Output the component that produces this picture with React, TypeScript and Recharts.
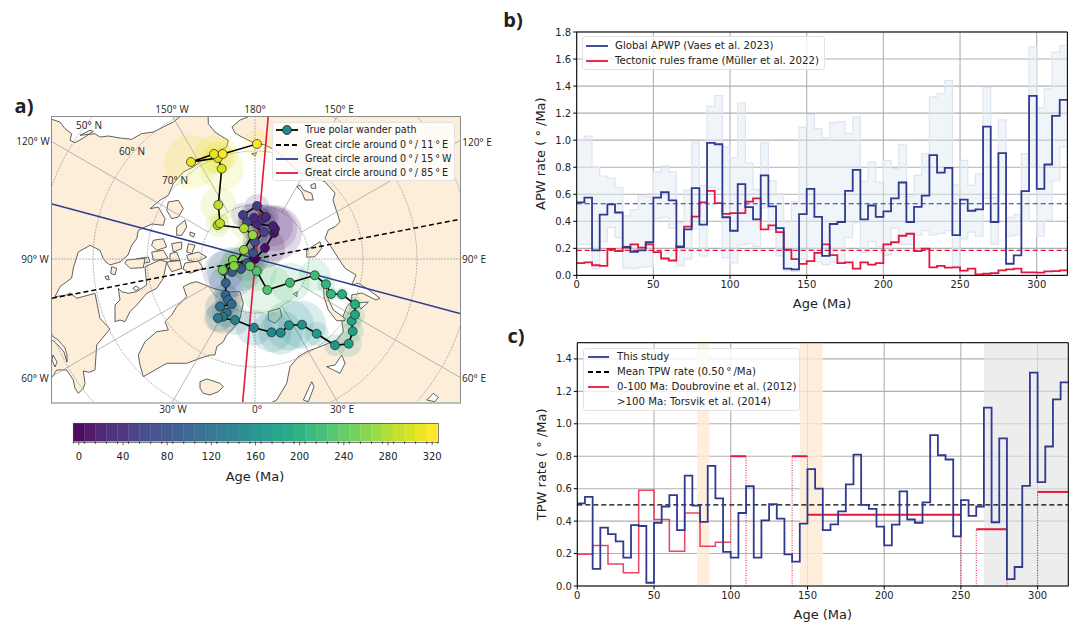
import {
  Area,
  Bar,
  BarChart,
  CartesianGrid,
  Cell,
  ComposedChart,
  Line,
  ReferenceArea,
  ReferenceLine,
  Scatter,
  ScatterChart,
  XAxis,
  YAxis,
} from 'recharts'

const FONT = '"DejaVu Sans", sans-serif'
const MAP_FONT = '"Open Sans", sans-serif'
const NAVY = '#2f3a8f'
const RED = '#e3173f'
const LAND = '#fdeed9'
const COAST = '#3a3a3a'

// 5 Ma bins, panels b and c share them
const binStarts = [
  0, 5, 10, 15, 20, 25, 30, 35, 40, 45, 50, 55, 60, 65, 70, 75, 80, 85, 90, 95, 100, 105, 110, 115, 120, 125, 130, 135,
  140, 145, 150, 155, 160, 165, 170, 175, 180, 185, 190, 195, 200, 205, 210, 215, 220, 225, 230, 235, 240, 245, 250,
  255, 260, 265, 270, 275, 280, 285, 290, 295, 300, 305, 310, 315,
]

const apwGlobal = [
  0.54, 0.575, 0.185, 0.45, 0.525, 0.465, 0.21, 0.175, 0.185, 0.245, 0.575, 0.615, 0.555, 0.21, 0.34, 0.645, 0.375,
  0.98, 0.97, 0.43, 0.33, 0.675, 0.505, 0.415, 0.74, 0.51, 0.35, 0.05, 0.045, 0.453, 0.64, 0.433, 0.145, 0.38, 0.395,
  0.625, 0.78, 0.415, 0.517, 0.433, 0.473, 0.57, 0.687, 0.395, 0.507, 0.59, 0.89, 0.76, 0.795, 0.298, 0.56, 0.478,
  0.488, 1.1, 0.395, 0.904, 0.086, 0.148, 0.623, 1.328, 0.64, 0.82, 1.18, 1.298,
]
const apwTectonic = [
  0.09, 0.097, 0.075, 0.07, 0.195, 0.18, 0.205, 0.23, 0.205, 0.23, 0.172, 0.125, 0.11, 0.215, 0.36, 0.435, 0.54, 0.625,
  0.535, 0.455, 0.46, 0.46, 0.545, 0.57, 0.34, 0.37, 0.32, 0.19, 0.12, 0.085, 0.106, 0.167, 0.23, 0.15, 0.09, 0.096,
  0.05, 0.096, 0.08, 0.09, 0.23, 0.245, 0.293, 0.308, 0.18, 0.197, 0.06, 0.07, 0.057, 0.06, 0.035, 0.05, 0.007, 0.012,
  0.017, 0.037, 0.044, 0.05, 0.022, 0.022, 0.02, 0.03, 0.032, 0.037,
]
const apwUpper = [
  1.0, 1.03, 0.8, 0.735, 0.72, 0.65, 0.44, 0.485, 0.59, 0.58, 0.765, 0.81, 0.765, 0.39, 0.63, 0.985, 0.665, 1.25, 1.33,
  0.95, 0.87, 1.275, 0.83, 0.635, 0.98, 0.7, 0.605, 0.395, 0.545, 1.095, 1.19, 1.085, 1.015, 1.13, 1.135, 1.05, 1.17,
  0.695, 0.84, 0.69, 0.85, 0.79, 0.97, 0.585, 0.74, 0.9, 1.32, 1.345, 1.44, 0.67, 0.85, 0.665, 0.75, 1.39, 0.575, 1.15,
  0.43, 0.45, 0.9, 1.69, 1.24, 1.38, 1.65, 1.7,
]
const apwLower = [
  0.23, 0.23, 0.05, 0.25, 0.355, 0.28, 0.055, 0.05, 0.06, 0.065, 0.42, 0.43, 0.35, 0.07, 0.12, 0.345, 0.145, 0.65, 0.64,
  0.13, 0.095, 0.225, 0.235, 0.215, 0.5, 0.34, 0.145, 0.035, 0.03, 0.12, 0.19, 0.1, 0.08, 0.1, 0.1, 0.28, 0.39, 0.17,
  0.25, 0.21, 0.15, 0.35, 0.23, 0.23, 0.3, 0.33, 0.3, 0.31, 0.33, 0.07, 0.27, 0.32, 0.29, 0.57, 0.23, 0.6, 0.29, 0.3,
  0.4, 0.8, 0.29, 0.41, 0.7, 0.95,
]
const tpwThisStudy = [
  0.51, 0.55, 0.105, 0.36, 0.32, 0.275, 0.175, 0.375, 0.37, 0.02, 0.39, 0.49, 0.56, 0.345, 0.68, 0.495, 0.395, 0.74,
  0.54, 0.21, 0.175, 0.45, 0.615, 0.175, 0.405, 0.505, 0.415, 0.195, 0.15, 0.385, 0.72, 0.6, 0.345, 0.38, 0.46, 0.627,
  0.81, 0.5, 0.475, 0.366, 0.25, 0.378, 0.584, 0.41, 0.39, 0.516, 0.93, 0.806, 0.78, 0.306, 0.53, 0.432, 0.49, 1.1,
  0.393, 0.91, 0.043, 0.117, 0.617, 1.316, 0.64, 0.86, 1.15, 1.256,
]

// Doubrovine et al. 0-100 Ma: 10 Ma steps
const doubrovineAges = [0, 10, 20, 30, 40, 50, 60, 70, 80, 90, 100]
const doubrovineRates = [0.195, 0.25, 0.135, 0.082, 0.59, 0.41, 0.215, 0.45, 0.245, 0.27, 0.27]
// Torsvik et al. >100 Ma: [from, to, rate]
const torsvikSegments = [
  [100, 110, 0.8],
  [140, 150, 0.8],
  [150, 250, 0.44],
  [260, 280, 0.35],
  [300, 320, 0.58],
]
// dotted droppers: [age, from, to]
const torsvikDrops = [
  [100, 0.27, 0.8],
  [110, 0, 0.8],
  [140, 0, 0.8],
  [150, 0.44, 0.8],
  [250, 0, 0.44],
  [260, 0, 0.35],
  [280, 0, 0.35],
  [300, 0, 0.58],
]

const xTicks = [0, 50, 100, 150, 200, 250, 300]
const apwTicks = [0, 0.2, 0.4, 0.6, 0.8, 1.0, 1.2, 1.4, 1.6, 1.8]
const tpwTicks = [0, 0.2, 0.4, 0.6, 0.8, 1.0, 1.2, 1.4]

// colourbar, 10 Ma classes
const colorbarAges = [
  0, 10, 20, 30, 40, 50, 60, 70, 80, 90, 100, 110, 120, 130, 140, 150, 160, 170, 180, 190, 200, 210, 220, 230, 240, 250,
  260, 270, 280, 290, 300, 310, 320,
]
const viridis = [
  '#440154', '#471063', '#481d6f', '#482979', '#472c7a', '#443a83', '#414487', '#3e4c8a', '#3b528b', '#375b8d',
  '#33638d', '#306a8e', '#2c728e', '#29798e', '#27808e', '#23888e', '#21918c', '#1f988b', '#1fa088', '#21a685',
  '#28ae80', '#32b67a', '#3fbc73', '#4ec36b', '#5ec962', '#70cf57', '#84d44b', '#98d83e', '#addc30', '#c2df23',
  '#d5e21a', '#e9e51a', '#fde725',
]

// true polar wander path on the map: [age, x, y, A95]
const tpwPath = [
  [0, 255, 259, 14], [5, 265, 248, 20], [10, 274, 233, 28], [15, 275, 229, 22], [20, 273, 226, 20], [25, 257, 224, 18],
  [30, 254, 218, 15], [35, 262, 219, 14], [40, 266, 217, 13], [45, 257, 206, 12], [50, 243, 215, 12], [55, 247, 222, 10],
  [60, 264, 232, 12], [65, 255, 242, 12], [70, 253, 253, 14], [75, 247, 263, 18], [80, 241, 269, 22], [85, 232, 272, 25],
  [90, 224, 271, 20], [95, 225.7, 283, 17], [100, 225.7, 295, 12], [105, 228, 300, 13], [110, 231.7, 304, 12],
  [115, 220, 306.7, 15], [120, 226.7, 312.7, 15], [125, 223, 316.7, 17], [130, 218, 318, 14], [135, 235, 320, 15],
  [140, 254, 327.7, 18], [145, 271.7, 332.3, 20], [150, 280.7, 332.7, 22], [155, 289, 325.3, 25], [160, 302, 324.7, 24],
  [165, 316.7, 333.7, 12], [170, 335, 345.3, 11], [175, 348.7, 343.7, 13], [180, 352.7, 331.3, 11], [185, 351.7, 321, 10],
  [190, 355, 314.7, 10], [195, 355, 304.3, 8], [200, 342, 294.3, 7], [205, 331, 294, 7], [210, 326, 284.3, 9],
  [215, 314.7, 275.3, 16], [220, 290, 282.7, 20], [225, 267.3, 290, 26], [230, 256.7, 271, 20], [235, 250, 266, 14],
  [240, 233, 260, 12], [245, 235, 266, 12], [250, 222.7, 270, 10], [255, 233, 260, 10], [260, 234, 266, 10],
  [265, 244, 250, 10], [270, 252.7, 235, 10], [275, 244, 228.3, 12], [280, 217.7, 225, 12], [285, 220, 223.3, 10],
  [290, 218.3, 205, 18], [295, 221.7, 168.7, 22], [300, 218, 158, 16], [305, 191, 162, 27], [310, 214, 154, 19],
  [315, 222.7, 154, 16], [320, 257, 144, 14],
]

// coastlines in map units
const landWest = [
  [45, 119], [51.7, 119.3], [60, 122], [65, 128.7], [71.7, 133.7], [70, 140.3], [75, 142.7], [83.3, 138], [93.3, 131.3],
  [90, 130.3], [80, 135.3], [95, 133.7], [100, 137], [108.3, 136], [120, 138], [131.7, 139.3], [141.7, 133.7], [153.3, 132],
  [163.3, 127], [173.3, 122], [180, 116.7], [180, 105], [208, 105], [208.3, 123.7], [215, 132], [220, 135.3], [228.3, 140.3],
  [226.7, 147], [206.7, 157], [193.3, 167], [183.3, 172], [173.3, 183.7], [168.3, 195.3], [160, 200.3], [150, 208.7],
  [158.3, 207], [165, 218.7], [163.3, 225.3], [152, 224], [145, 227], [138.3, 230.3], [136.7, 238.7], [131.7, 245.3],
  [128, 255], [120, 262], [110, 265], [106, 262], [103.3, 258.7], [100, 250.3], [90, 245.3], [78.3, 252], [73.3, 268],
  [71.7, 278], [60, 286.7], [55, 296.7], [66.7, 295], [70, 293], [76.7, 298.3], [95, 293.3], [100, 318.3], [110, 329],
  [96.7, 345], [95, 370], [89.3, 372.3], [83.3, 371], [85, 383.3], [83.3, 388.3], [78.3, 393.3], [75, 388.3], [73.3, 380],
  [66.7, 370], [56.7, 370], [52.7, 376.7], [45, 376.7],
]
const landEast = [
  [248, 105], [248, 117], [240, 120], [232, 127], [235, 133], [240, 136], [252, 142], [265, 145], [275, 150], [300, 173],
  [325, 181.7], [335, 193.3], [333, 200], [336.7, 211.7], [340, 221.7], [335, 226.7], [328.3, 230], [325, 238.3], [330, 245],
  [338.3, 258.3], [345, 268.3], [356, 275], [351.7, 285], [358.3, 283.3], [366.7, 288.3], [380, 298.3], [376, 300],
  [362, 293], [351.7, 295], [351.7, 301.7], [346.7, 306.7], [341.7, 320], [343.3, 331.7], [336.7, 340], [320, 346.7],
  [306.7, 351.7], [298.3, 356.7], [290, 366.7], [286.7, 383.3], [276.7, 400], [270, 403.3], [270, 410], [470, 410], [470, 105],
]
const landIslands = [
  [[168.3, 202], [178.3, 200.3], [183.3, 208.7], [178.3, 217], [171.7, 218.7], [166.7, 210.3]],
  [[176.7, 227], [185, 220.3], [186.7, 227], [181.7, 235.3], [176.7, 235.3]],
  [[190, 232], [195, 233.7], [193.3, 237], [190, 235.3]],
  [[153.3, 240.3], [163.3, 238.7], [166.7, 247], [156.7, 250.3], [151.7, 245.3]],
  [[171.7, 243.7], [181.7, 242], [181.7, 248.7], [173.3, 252]],
  [[188.3, 243.7], [195, 245.3], [191.7, 253.7], [186.7, 252]],
  [[151.7, 252], [163.3, 250.3], [168.3, 258.7], [153.3, 260.3]],
  [[170, 253.7], [176.7, 252], [180, 260.3], [170, 260.3]],
  [[186.7, 255.3], [198.3, 252], [206.7, 257], [196.7, 262], [188.3, 260.3]],
  [[136.7, 258.7], [148.3, 257], [150, 262], [138, 264]],
  [[126.7, 260], [145, 258.3], [143.3, 267.7], [130, 268.3], [125, 263.3]],
  [[166.7, 262], [180, 260.5], [181.7, 268.3], [171.7, 271.7], [168.3, 266]],
  [[185, 263], [198.3, 261], [203.3, 268.3], [190, 273.3], [183, 269]],
  // Baffin
  [[145, 266.7], [160, 260], [166.7, 261.7], [163.3, 278.3], [156.7, 288.3], [146.7, 293.3], [136.7, 305], [130, 311.7],
    [125, 321.7], [120, 320], [115, 321.7], [115, 305], [120, 300], [118.3, 288.3], [121.7, 291.7], [128.3, 293.3],
    [136.7, 291.7], [146.7, 285]],
  [[105, 276.7], [108.3, 275.7], [109.3, 280], [106, 279]],
  [[111.7, 266.7], [116.7, 268.3], [115, 275], [110.7, 273.3]],
  // Greenland
  [[183.3, 286.7], [186.7, 296.7], [176.7, 306.7], [171.7, 315], [165, 321.7], [168.3, 330], [156.7, 331.7], [145, 341.7],
    [138.3, 355], [140, 365], [143.3, 376.7], [166.7, 363.3], [186.7, 363.3], [200, 358.3], [210, 355], [215, 355],
    [216.7, 346.7], [223.3, 341.7], [226.7, 335], [233.3, 328.3], [240, 318.3], [243.3, 303.3], [240, 291.7], [226.7, 291.7],
    [213.3, 288.3], [196.7, 281.7], [190, 283.3]],
  // Iceland
  [[200, 381.7], [206.7, 379], [213.3, 381], [220, 383.3], [223.3, 386.7], [218.3, 391.7], [210, 395], [203.3, 393.3], [200, 388.3]],
  // Svalbard, Franz Josef
  [[268.3, 311.7], [280, 308.3], [281.7, 316.7], [275, 323.3], [268.3, 320]],
  [[293.3, 294], [297.3, 291.7], [296.7, 296.7]],
  // Novaya Zemlya
  [[323.3, 283.3], [326, 285], [327.3, 296.7], [333.3, 310], [345, 318.3], [345, 320.7], [336.7, 320.7], [328.3, 310], [324, 296.7]],
  // Severnaya Zemlya and New Siberian Islands
  [[296.7, 186.7], [300, 185], [303.3, 190], [311.7, 193.3], [313.3, 200], [305, 200], [301.7, 191.7]],
  [[310.7, 185], [315, 183.3], [316, 188.3], [311.7, 188.3]],
  [[306.7, 250], [320, 241.7], [321.7, 248.3], [315, 256.7], [306.7, 257.3]],
  [[251.7, 153.7], [256.7, 152.7], [255, 156]],
]
const inlandWater = [
  [[51, 335], [58, 340], [65, 348], [67, 355], [67, 362], [64, 352], [58, 345], [51, 339]],
  [[53, 355], [57, 362], [55, 367], [52, 360]],
  [[132.7, 288.3], [136, 286], [139.3, 288.3], [136, 290.7]],
  [[326.7, 366.7], [335, 365], [341.7, 355], [345, 363.3], [340, 373.3], [333.3, 370]],
  [[303.3, 400], [311.7, 381.7], [314, 386.7], [308.3, 401.7]],
  [[426.7, 400], [433.3, 393.3], [438.3, 397.3], [435, 401.7]],
  [[357, 303], [368.3, 302], [361, 309]],
]

// great circles: end points across the map frame
const circleMean = [[52, 298.3], [460, 219.3]]
const circleWest = [[52, 204], [460, 313.5]]
const circleEast = [[268.3, 116], [242.7, 402]]

const POLE = [255, 259]
const parallels = [80, 70, 60, 50, 40]
const meridians = [0, 30, 60, 90, 120, 150, 180, 210, 240, 270, 300, 330]
const PX_PER_DEG = 5.4

const latLabels = [['50° N', 89, 125], ['60° N', 132, 151], ['70° N', 175, 180]]
const frameLabels = [
  ['150° W', 172, 109], ['180°', 255, 109], ['150° E', 339, 109],
  ['120° W', 33, 141], ['90° W', 35, 259], ['60° W', 35, 378],
  ['120° E', 477, 142], ['90° E', 474, 259], ['60° E', 474, 378],
  ['30° W', 173, 409], ['0°', 257, 409], ['30° E', 342, 409],
]

const pts = (list: number[][]) => list.map(([x, y]) => ({ x, y }))

const parallelPoints = (lat: number) => {
  const r = (90 - lat) * PX_PER_DEG
  const out = []
  for (let a = 0; a <= 360; a += 5) {
    const t = (a * Math.PI) / 180
    out.push({ x: POLE[0] + r * Math.cos(t), y: POLE[1] + r * Math.sin(t) })
  }
  return out
}

const meridianPoints = (lon: number) => {
  const t = (lon * Math.PI) / 180
  return [54, 340].map((r) => ({ x: POLE[0] + r * Math.sin(t), y: POLE[1] + r * Math.cos(t) }))
}

const binTable = (series: Record<string, number[]>) => {
  const rows = binStarts.map((age, i) => {
    const row: any = { age }
    Object.keys(series).forEach((k) => (row[k] = series[k][i]))
    return row
  })
  // repeat the last bin so the step reaches the right edge
  rows.push({ ...rows[rows.length - 1], age: 320 })
  return rows
}

const apwData = binTable({ global: apwGlobal, tectonic: apwTectonic, upper: apwUpper, lower: apwLower }).map((r) => ({
  ...r,
  band: [r.lower, r.upper],
}))
const tpwData = binTable({ study: tpwThisStudy })
const doubrovineData = doubrovineAges.map((age, i) => ({ age, rate: doubrovineRates[i] }))

const polygon = (fill: string, stroke = COAST) => (p: any) => {
  const d = 'M' + p.points.map((q: any) => `${q.x},${q.y}`).join('L') + 'Z'
  return <path d={d} fill={fill} stroke={stroke} strokeWidth={0.8} strokeLinejoin="round" />
}

const noMark = () => <g />

function LegendBox({ left, top, width, height, rows, fontSize = 10.2, textX, handle }: any) {
  return (
    <div
      style={{
        position: 'absolute',
        left,
        top,
        width,
        height,
        background: 'rgba(255,255,255,0.8)',
        border: '1px solid #e2e2e2',
        borderRadius: 3,
        boxSizing: 'border-box',
        fontFamily: FONT,
        fontSize,
        color: '#222',
      }}
    >
      {rows.map((r: any, i: number) => (
        <div key={i} style={{ position: 'absolute', left: 0, top: r.y - top, height: 0, width: '100%' }}>
          {r.color && (
            <svg style={{ position: 'absolute', left: handle[0] - left, top: -6 }} width={handle[1] - handle[0]} height={12}>
              <line
                x1={0}
                x2={handle[1] - handle[0]}
                y1={6}
                y2={6}
                stroke={r.color}
                strokeWidth={r.width ?? 1.8}
                strokeDasharray={r.dash}
              />
              {r.marker && <circle cx={(handle[1] - handle[0]) / 2} cy={6} r={4.5} fill={r.marker} stroke="#222" strokeWidth={0.8} />}
            </svg>
          )}
          <span style={{ position: 'absolute', left: textX - left, top: -7, lineHeight: '14px', whiteSpace: 'nowrap' }}>{r.label}</span>
        </div>
      ))}
    </div>
  )
}

const tickStyle = { fontSize: 10, fontFamily: FONT, fill: '#222' }
const labelStyle = { fontSize: 13, fontFamily: FONT, fill: '#222', textAnchor: 'middle' as const }

function PolarMap() {
  return (
    <div style={{ position: 'absolute', left: 52, top: 117 }}>
      <ScatterChart width={408} height={285} margin={{ top: 0, right: 0, bottom: 0, left: 0 }} style={{ background: '#fff' }}>
        <XAxis type="number" dataKey="x" domain={[52, 460]} hide allowDataOverflow />
        <YAxis type="number" dataKey="y" domain={[117, 402]} reversed hide allowDataOverflow />
        <Scatter data={pts(landWest)} line={polygon(LAND)} shape={noMark} isAnimationActive={false} />
        <Scatter data={pts(landEast)} line={polygon(LAND)} shape={noMark} isAnimationActive={false} />
        {landIslands.map((isle, i) => (
          <Scatter key={i} data={pts(isle)} line={polygon(LAND)} shape={noMark} isAnimationActive={false} />
        ))}
        {inlandWater.map((lake, i) => (
          <Scatter key={i} data={pts(lake)} line={polygon('#fff')} shape={noMark} isAnimationActive={false} />
        ))}
        {parallels.map((lat) => (
          <Scatter
            key={lat}
            data={parallelPoints(lat)}
            line={{ stroke: '#999', strokeWidth: 0.7, strokeDasharray: '2 1' }}
            shape={noMark}
            isAnimationActive={false}
          />
        ))}
        {meridians.map((lon) => (
          <Scatter
            key={lon}
            data={meridianPoints(lon)}
            line={{ stroke: '#999', strokeWidth: 0.7, strokeDasharray: lon % 90 === 0 ? '2 1' : undefined }}
            shape={noMark}
            isAnimationActive={false}
          />
        ))}
        <Scatter
          data={tpwPath.map(([age, x, y, a95]) => ({ age, x, y, a95 }))}
          shape={(p: any) => (
            <circle cx={p.cx} cy={p.cy} r={p.payload.a95} fill={viridis[Math.round(p.payload.age / 10)]} fillOpacity={0.16} />
          )}
          isAnimationActive={false}
        />
        <Scatter data={pts(circleMean)} line={{ stroke: '#000', strokeWidth: 1.5, strokeDasharray: '5 3' }} shape={noMark} isAnimationActive={false} />
        <Scatter data={pts(circleWest)} line={{ stroke: NAVY, strokeWidth: 1.6 }} shape={noMark} isAnimationActive={false} />
        <Scatter data={pts(circleEast)} line={{ stroke: RED, strokeWidth: 1.6 }} shape={noMark} isAnimationActive={false} />
        <Scatter
          data={tpwPath.map(([age, x, y]) => ({ age, x, y }))}
          line={{ stroke: '#000', strokeWidth: 1.6 }}
          shape={(p: any) => (
            <circle cx={p.cx} cy={p.cy} r={4.5} fill={viridis[Math.round(p.payload.age / 10)]} stroke="#222" strokeWidth={0.7} />
          )}
          isAnimationActive={false}
        />
      </ScatterChart>
    </div>
  )
}

const ColorbarTick = (p: any) => {
  const age = Number(p.payload.value)
  const half = 5.52
  return (
    <g>
      <line x1={p.x - half} x2={p.x - half} y1={441.7 - 415} y2={441.7 - 415 + 2} stroke="#222" strokeWidth={0.6} />
      <line x1={p.x + half} x2={p.x + half} y1={441.7 - 415} y2={441.7 - 415 + 2} stroke="#222" strokeWidth={0.6} />
      {age % 40 === 0 && (
        <>
          <line x1={p.x} x2={p.x} y1={441.7 - 415} y2={441.7 - 415 + 3.5} stroke="#222" strokeWidth={0.7} />
          <text x={p.x} y={456 - 415 + 3.5} textAnchor="middle" style={tickStyle}>
            {age}
          </text>
        </>
      )}
    </g>
  )
}

function Colorbar() {
  const data = colorbarAges.map((age) => ({ age, span: 1 }))
  return (
    <div style={{ position: 'absolute', left: 60, top: 415 }}>
      <BarChart
        width={390}
        height={72}
        data={data}
        barCategoryGap={0}
        margin={{ top: 8.3, right: 12.3, bottom: 0, left: 13.3 }}
      >
        <XAxis
          dataKey="age"
          interval={0}
          height={45.7}
          tickLine={false}
          axisLine={false}
          tick={<ColorbarTick />}
        />
        <YAxis domain={[0, 1]} hide />
        <Bar dataKey="span" isAnimationActive={false} fillOpacity={0.95}>
          {data.map((d, i) => (
            <Cell key={d.age} fill={viridis[i]} stroke={viridis[i]} strokeWidth={0.3} />
          ))}
        </Bar>
      </BarChart>
    </div>
  )
}

function ApwChart() {
  return (
    <div style={{ position: 'absolute', left: 520, top: 20 }}>
      <ComposedChart
        width={555}
        height={295.4}
        data={apwData}
        margin={{ top: 12, right: 7.6, bottom: 0, left: 16.7 }}
      >
        <CartesianGrid stroke="#b0b0b0" strokeWidth={1.1} />
        <XAxis
          type="number"
          dataKey="age"
          domain={[0, 320]}
          ticks={xTicks}
          height={40}
          tick={tickStyle}
          tickSize={3.5}
          stroke="#000"
          label={{ value: 'Age (Ma)', position: 'insideBottom', offset: 7, style: labelStyle }}
        />
        <YAxis
          domain={[0, 1.8]}
          ticks={apwTicks}
          width={40}
          tick={tickStyle}
          tickSize={3.5}
          stroke="#000"
          tickFormatter={(v: number) => v.toFixed(1)}
          label={{ value: 'APW rate ( ° /Ma)', angle: -90, position: 'insideLeft', offset: 4, style: labelStyle }}
        />
        <Area
          type="stepAfter"
          dataKey="band"
          fill="#dbe8f2"
          fillOpacity={0.45}
          stroke="#dfe4f0"
          strokeWidth={1.2}
          isAnimationActive={false}
        />
        <ReferenceLine y={0.53} stroke={NAVY} strokeWidth={1.2} strokeDasharray="5 3" />
        <ReferenceLine y={0.185} stroke={RED} strokeWidth={1.2} strokeDasharray="5 3" />
        <Line type="stepAfter" dataKey="tectonic" stroke={RED} strokeWidth={1.8} dot={false} isAnimationActive={false} />
        <Line type="stepAfter" dataKey="global" stroke={NAVY} strokeWidth={1.8} dot={false} isAnimationActive={false} />
        <ReferenceLine x={320} stroke="#000" strokeWidth={1} />
        <ReferenceLine y={1.8} stroke="#000" strokeWidth={1} />
      </ComposedChart>
    </div>
  )
}

function TpwChart() {
  return (
    <div style={{ position: 'absolute', left: 520, top: 330 }}>
      <ComposedChart
        width={555}
        height={292}
        data={tpwData}
        margin={{ top: 12.7, right: 6.7, bottom: 0, left: 17.3 }}
      >
        <ReferenceArea x1={78} x2={86} fill="#fdebd3" fillOpacity={0.8} stroke="none" />
        <ReferenceArea x1={145} x2={160} fill="#fdebd3" fillOpacity={0.8} stroke="none" />
        <ReferenceArea x1={265} x2={320} fill="#e4e4e4" fillOpacity={0.65} stroke="none" />
        <CartesianGrid stroke="#b0b0b0" strokeWidth={1.1} />
        <XAxis
          type="number"
          dataKey="age"
          domain={[0, 320]}
          ticks={xTicks}
          height={36}
          tick={tickStyle}
          tickSize={3.5}
          stroke="#000"
          label={{ value: 'Age (Ma)', position: 'insideBottom', offset: 3, style: labelStyle }}
        />
        <YAxis
          domain={[0, 1.5]}
          ticks={tpwTicks}
          width={40}
          tick={tickStyle}
          tickSize={3.5}
          stroke="#000"
          tickFormatter={(v: number) => v.toFixed(1)}
          label={{ value: 'TPW rate ( ° /Ma)', angle: -90, position: 'insideLeft', offset: 4, style: labelStyle }}
        />
        <ReferenceLine y={0.5} stroke="#000" strokeWidth={1.3} strokeDasharray="5 3" />
        <Line
          data={doubrovineData}
          type="stepAfter"
          dataKey="rate"
          stroke={RED}
          strokeOpacity={0.8}
          strokeWidth={1.5}
          dot={false}
          isAnimationActive={false}
        />
        {torsvikDrops.map(([age, from, to]) => (
          <Line
            key={`${age}-${from}`}
            data={[
              { age, rate: from },
              { age, rate: to },
            ]}
            dataKey="rate"
            stroke={RED}
            strokeWidth={1}
            strokeDasharray="1 1.5"
            dot={false}
            isAnimationActive={false}
          />
        ))}
        {torsvikSegments.map(([from, to, rate]) => (
          <Line
            key={from}
            data={[
              { age: from, rate },
              { age: to, rate },
            ]}
            dataKey="rate"
            stroke={RED}
            strokeWidth={2}
            dot={false}
            isAnimationActive={false}
          />
        ))}
        <Line type="stepAfter" dataKey="study" stroke={NAVY} strokeWidth={1.8} dot={false} isAnimationActive={false} />
        <ReferenceLine x={320} stroke="#000" strokeWidth={1} />
        <ReferenceLine y={1.5} stroke="#000" strokeWidth={1} />
      </ComposedChart>
    </div>
  )
}

function Tag({ text, x, y, size = 10, font = MAP_FONT, weight = 400 }: any) {
  return (
    <div
      style={{
        position: 'absolute',
        left: x,
        top: y,
        transform: 'translate(-50%,-50%)',
        fontFamily: font,
        fontSize: size,
        fontWeight: weight,
        color: '#222',
        whiteSpace: 'nowrap',
      }}
    >
      {text}
    </div>
  )
}

export default function App() {
  return (
    <div style={{ position: 'absolute', left: 0, top: 0, width: 1075, height: 622, background: '#fff', overflow: 'hidden' }}>
      <PolarMap />
      <div
        style={{
          position: 'absolute',
          left: 51,
          top: 116,
          width: 408,
          height: 285,
          border: '1px solid #8a8a8a',
          borderBottom: '2px solid #bdbdbd',
        }}
      />
      {frameLabels.map(([t, x, y]) => (
        <Tag key={t as string} text={t} x={x} y={y} />
      ))}
      {latLabels.map(([t, x, y]) => (
        <Tag key={t as string} text={t} x={x} y={y} />
      ))}
      <LegendBox
        left={272}
        top={122}
        width={183}
        height={59}
        fontSize={9.6}
        textX={304}
        handle={[275, 297]}
        rows={[
          { y: 129, label: 'True polar wander path', color: '#000', marker: viridis[15] },
          { y: 143.5, label: 'Great circle around 0\u2009°\u2009/ 11\u2009°\u2009E', color: '#000', dash: '5 3' },
          { y: 157.8, label: 'Great circle around 0\u2009°\u2009/ 15\u2009°\u2009W', color: NAVY },
          { y: 172, label: 'Great circle around 0\u2009°\u2009/ 85\u2009°\u2009E', color: RED },
        ]}
      />
      <Colorbar />
      <div style={{ position: 'absolute', left: 73, top: 423, width: 364, height: 18, border: '1px solid rgba(40,40,40,0.6)' }} />
      <Tag text="Age (Ma)" x={255} y={476} size={13} font={FONT} />

      <ApwChart />
      <LegendBox
        left={582}
        top={36}
        width={243}
        height={34}
        textX={614}
        handle={[585, 607]}
        rows={[
          { y: 45, label: 'Global APWP (Vaes et al. 2023)', color: NAVY },
          { y: 60, label: 'Tectonic rules frame (Müller et al. 2022)', color: RED },
        ]}
      />

      <TpwChart />
      <LegendBox
        left={583}
        top={348}
        width={217}
        height={63}
        textX={616}
        handle={[587, 608]}
        rows={[
          { y: 356, label: 'This study', color: NAVY },
          { y: 371, label: 'Mean TPW rate (0.50\u2009°\u2009/Ma)', color: '#000', dash: '5 3' },
          { y: 386, label: '0-100 Ma: Doubrovine et al. (2012)', color: RED },
          { y: 401.3, label: '>100 Ma: Torsvik et al. (2014)' },
        ]}
      />

      <Tag text="a)" x={24} y={105} size={20} weight={700} />
      <Tag text="b)" x={513} y={19} size={20} weight={700} />
      <Tag text="c)" x={516} y={335} size={20} weight={700} />
    </div>
  )
}
